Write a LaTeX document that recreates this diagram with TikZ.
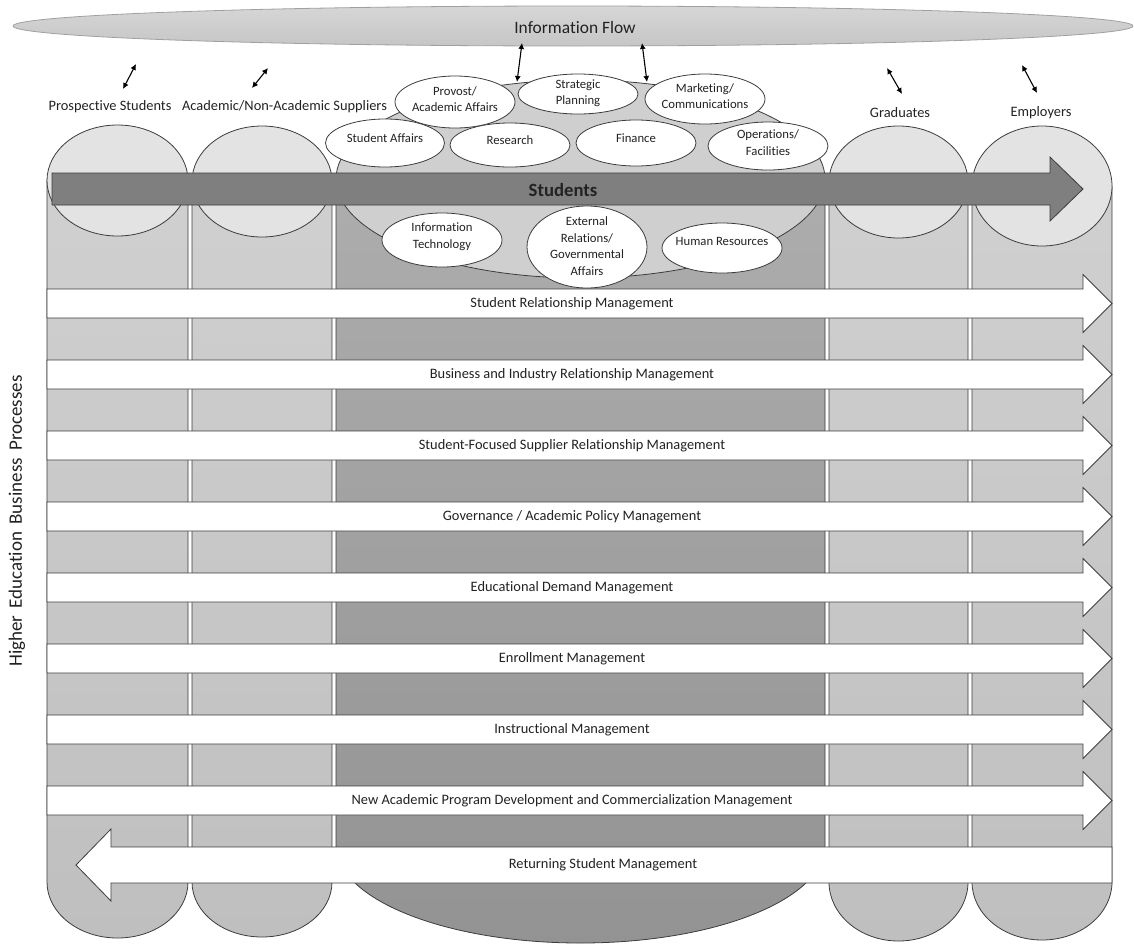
\documentclass[tikz,border=0pt]{standalone}
\usepackage{fontspec}
\setmainfont{Carlito}[Ligatures=NoCommon]
\usetikzlibrary{shapes.geometric,arrows.meta}
\definecolor{edge}{HTML}{3C3C3C}
\definecolor{flowedge}{HTML}{A0A0A0}
\definecolor{flowtop}{HTML}{D6D6D6}
\definecolor{flowbot}{HTML}{C6C6C6}
\definecolor{capfill}{HTML}{E3E3E3}
\definecolor{midcap}{HTML}{CFCFCF}
\definecolor{bodytop}{HTML}{D0D0D0}
\definecolor{bodybot}{HTML}{BFBFBF}
\definecolor{midtop}{HTML}{ADADAD}
\definecolor{midbot}{HTML}{939393}
\definecolor{studfill}{HTML}{7F7F7F}
\definecolor{ink}{HTML}{222222}
\newcommand{\rowtxt}{\fontsize{14.4pt}{17pt}\selectfont}
\newcommand{\depttxt}{\fontsize{12.7pt}{16.5pt}\selectfont}
\newcommand{\flowtxt}{\fontsize{17.4pt}{20pt}\selectfont}
\newcommand{\studtxt}{\fontsize{18.7pt}{22pt}\selectfont\bfseries}
\newcommand{\sidetxt}{\fontsize{19pt}{22pt}\selectfont}
\begin{document}
\begin{tikzpicture}[x=1pt,y=-1pt,
  every node/.style={text=ink},
  outline/.style={draw=edge, line width=0.8pt},
  sidebody/.style={outline, top color=bodytop, bottom color=bodybot},
  midbody/.style={outline, top color=midtop, bottom color=midbot},
  sidecap/.style={outline, fill=capfill},
  midcapst/.style={outline, fill=midcap},
  dept/.style={ellipse, draw=edge, line width=0.8pt, fill=white, inner sep=0pt},
  depttext/.style={align=center, font=\depttxt, inner sep=0pt},
  band/.style={outline, fill=white},
  rowlabel/.style={font=\rowtxt, inner sep=0pt},
  headlabel/.style={font=\rowtxt, inner sep=0pt},
  flowarrow/.style={{Latex[length=6pt,width=6pt]}-{Latex[length=6pt,width=6pt]}, line width=1.1pt, draw=black},
]
\useasboundingbox (0,0) rectangle (1134,943);

% information flow
\path[draw=flowedge, line width=0.8pt, top color=flowtop, bottom color=flowbot] (573,26) ellipse[x radius=560pt, y radius=20pt];
\node[font=\flowtxt, inner sep=0pt] (flow) at (575,28) {Information Flow};

% column bodies
\path[sidebody] (47,180) -- (47,882) arc[start angle=180, end angle=360, x radius=70.5pt, y radius=56pt] -- (188,180) -- cycle;
\path[sidebody] (192,181) -- (192,882) arc[start angle=180, end angle=360, x radius=70pt, y radius=55pt] -- (332,181) -- cycle;
\path[midbody] (336,179) -- (336,845) arc[start angle=180, end angle=360, x radius=244.5pt, y radius=98pt] -- (825,179) -- cycle;
\path[sidebody] (829,182) -- (829,882) arc[start angle=180, end angle=360, x radius=69.5pt, y radius=59pt] -- (968,182) -- cycle;
\path[sidebody] (972,186) -- (972,882) arc[start angle=180, end angle=360, x radius=70pt, y radius=58pt] -- (1112,186) -- cycle;

% column caps
\path[sidecap] (117.5,180.5) ellipse[x radius=70.5pt, y radius=55.5pt];
\path[sidecap] (262,181.5) ellipse[x radius=70pt, y radius=55.5pt];
\path[midcapst] (580.5,179) ellipse[x radius=244.5pt, y radius=99pt];
\path[sidecap] (898.5,182) ellipse[x radius=69.5pt, y radius=56pt];
\path[sidecap] (1042,186) ellipse[x radius=70pt, y radius=60pt];

% students arrow
\path[outline, fill=studfill] (52,173) -- (1050,173) -- (1050,157) -- (1083,189) -- (1050,221) -- (1050,205) -- (52,205) -- cycle;
\node[font=\studtxt, inner sep=0pt] (students) at (563,190) {Students};

% departments
\node[dept, minimum width=120pt, minimum height=52pt] (prov) at (455,102) {};
\node[depttext] (provt) at (455,99) {Provost/\\Academic Affairs};
\node[dept, minimum width=120pt, minimum height=40pt] (strat) at (578,94) {};
\node[depttext] (stratt) at (578,93) {Strategic\\Planning};
\node[dept, minimum width=120pt, minimum height=50pt] (mkt) at (705,99) {};
\node[depttext] (mktt) at (705,96) {Marketing/\\Communications};
\node[dept, minimum width=119pt, minimum height=48pt] (saff) at (385,143) {};
\node[depttext] (safft) at (385,138) {Student Affairs};
\node[dept, minimum width=120pt, minimum height=44pt] (res) at (510,145) {};
\node[depttext] (rest) at (510,140) {Research};
\node[dept, minimum width=120pt, minimum height=46pt] (fin) at (636,143) {};
\node[depttext] (fint) at (636,138) {Finance};
\node[dept, minimum width=120pt, minimum height=48pt] (ops) at (768,146) {};
\node[depttext] (opst) at (768,142.5) {Operations/\\Facilities};
\node[dept, minimum width=120pt, minimum height=54pt] (it) at (442,240) {};
\node[depttext] (itt) at (442,236.5) {Information\\Technology};
\node[dept, minimum width=120pt, minimum height=82pt] (ext) at (587,247) {};
\node[depttext] (extt) at (587,246) {External\\Relations/\\Governmental\\Affairs};
\node[dept, minimum width=120pt, minimum height=50pt] (hr) at (722,248) {};
\node[depttext] (hrt) at (722,241) {Human Resources};

% process bands
\foreach \i/\txt in {0/{Student Relationship Management},
                     1/{Business and Industry Relationship Management},
                     2/{Student-Focused Supplier Relationship Management},
                     3/{Governance / Academic Policy Management},
                     4/{Educational Demand Management},
                     5/{Enrollment Management},
                     6/{Instructional Management},
                     7/{New Academic Program Development and Commercialization Management}}{
  \pgfmathsetmacro{\bt}{289+71*\i}
  \pgfmathsetmacro{\bb}{\bt+29}
  \pgfmathsetmacro{\bm}{\bt+14.5}
  \pgfmathsetmacro{\hu}{\bt-14.5}
  \pgfmathsetmacro{\hd}{\bb+14.5}
  \path[band] (47,\bt) -- (1083,\bt) -- (1083,\hu) -- (1112,\bm) -- (1083,\hd) -- (1083,\bb) -- (47,\bb) -- cycle;
  \node[rowlabel] (row\i) at (572,\bm) {\txt};
}
\path[band] (1112,847) -- (1112,883) -- (111,883) -- (111,901) -- (76,865) -- (111,829) -- (111,847) -- cycle;
\node[rowlabel] (rowret) at (603,865) {Returning Student Management};

% headings
\node[headlabel] (hps) at (110,107) {Prospective Students};
\node[headlabel] (has) at (284.5,107) {Academic/Non-Academic Suppliers};
\node[headlabel] (hgr) at (900,113) {Graduates};
\node[headlabel] (hem) at (1041,113) {Employers};
\node[font=\sidetxt, rotate=90, inner sep=0pt] (side) at (17,521) {Higher\hspace{3pt} Education\hspace{3pt} Business\hspace{3pt} Processes};

% information-flow connectors
\coordinate (c1a) at (123,89);  \coordinate (c1b) at (136,64);
\coordinate (c2a) at (252,88);  \coordinate (c2b) at (268,68);
\coordinate (c3a) at (522,43);  \coordinate (c3b) at (517,82);
\coordinate (c4a) at (642,43);  \coordinate (c4b) at (647,82);
\coordinate (c5a) at (887,68);  \coordinate (c5b) at (902,94);
\coordinate (c6a) at (1022,65); \coordinate (c6b) at (1037,93);
\draw[flowarrow] (c1a) -- (c1b);
\draw[flowarrow] (c2a) -- (c2b);
\draw[flowarrow] (c3a) -- (c3b);
\draw[flowarrow] (c4a) -- (c4b);
\draw[flowarrow] (c5a) -- (c5b);
\draw[flowarrow] (c6a) -- (c6b);
\end{tikzpicture}
\end{document}
